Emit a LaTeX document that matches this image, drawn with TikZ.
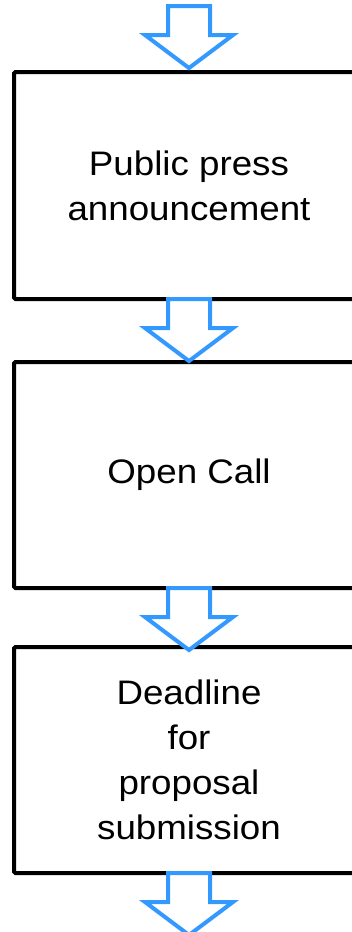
\documentclass[tikz,border=0pt]{standalone}
\usepackage{fontspec}
\setmainfont{Liberation Sans}[FakeStretch=1.08]
\definecolor{flowblue}{RGB}{51,153,255}
\tikzset{
  stage/.style={draw=black, line width=4pt, rounded corners=1.5pt, fill=white,
    minimum width=350pt, minimum height=226pt, outer sep=0pt, inner sep=0pt,
    align=center, font=\fontsize{34}{45}\selectfont},
  flowarrow/.style={draw=flowblue, line width=4pt, fill=white, line join=miter},
  downarrow/.pic={
    \path[flowarrow] (-21,0) -- (-21,29) -- (-44,29) -- (0,62) -- (44,29)
      -- (21,29) -- (21,0) -- cycle;
  }
}
\begin{document}
\begin{tikzpicture}[x=1pt, y=-1pt]
  \useasboundingbox (0,0) rectangle (352,932);
  \clip (0,0) rectangle (352,932);
  \fill[white] (0,0) rectangle (352,932);

  % the three stages of the procedure
  \node[stage, minimum height=227pt] (press) at (189,185.5) {Public press\\announcement};
  \node[stage] (call) at (189,475) {Open Call};
  \node[stage] (deadline) at (189,760) {Deadline\\for\\proposal\\submission};

  % incoming arrow above the first stage
  \coordinate (start) at (189,6);
  \pic at (start) {downarrow};

  % hollow arrows leading from stage to stage
  \pic at (press.south) {downarrow};
  \pic at (call.south) {downarrow};
  \pic at (deadline.south) {downarrow};
\end{tikzpicture}
\end{document}
